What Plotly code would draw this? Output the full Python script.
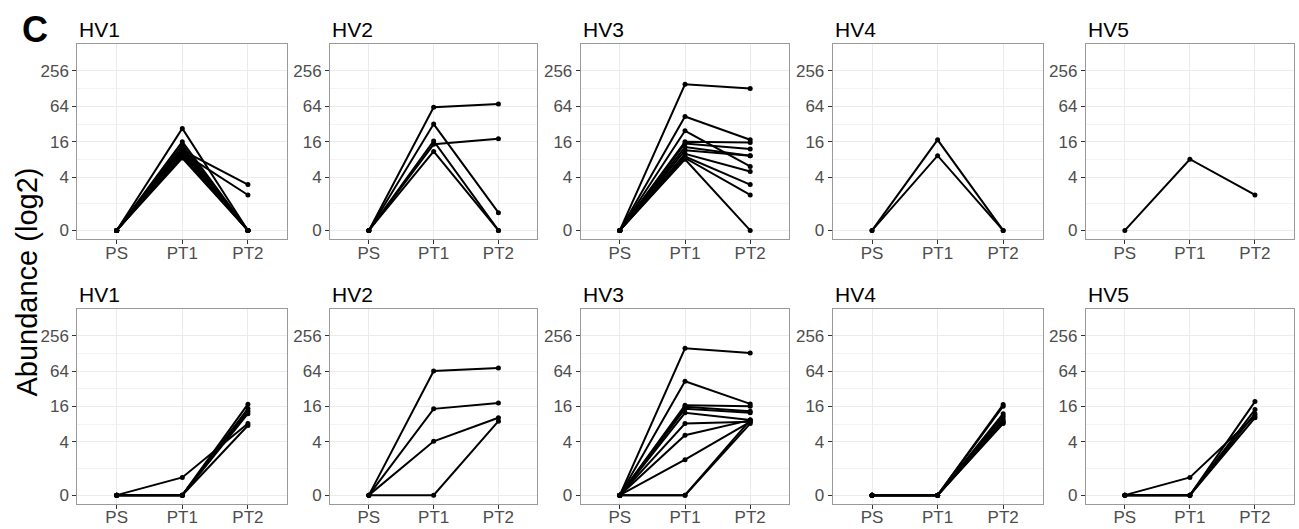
import math
import plotly.graph_objects as go

# ---------------- data ----------------
timepoints = ["PS", "PT1", "PT2"]
donors = ["HV1", "HV2", "HV3", "HV4", "HV5"]
tick_values = [0, 4, 16, 64, 256]
tick_labels = ["0", "4", "16", "64", "256"]

# Top row: clone abundances (PS, PT1, PT2) per donor
top_HV1 = [[0, 27, 0], [0, 16, 0], [0, 14, 0], [0, 12.5, 0], [0, 11.5, 3], [0, 11, 0],
           [0, 10.5, 2], [0, 10, 0], [0, 9.5, 0], [0, 9, 0], [0, 8.5, 0], [0, 12, 0]]
top_HV2 = [[0, 62, 70], [0, 32, 1], [0, 16.5, 0], [0, 14.5, 18], [0, 11, 0]]
top_HV3 = [[0, 152, 128], [0, 43, 17.3], [0, 24.6, 6.1], [0, 16, 15.5], [0, 15, 12.1],
           [0, 13, 9.3], [0, 11.5, 9.3], [0, 10, 5.0], [0, 9, 3.0], [0, 8.5, 2.0], [0, 8.1, 0]]
top_HV4 = [[0, 17.3, 0], [0, 9.3, 0]]
top_HV5 = [[0, 8.1, 2.0]]

# Bottom row
bot_HV1 = [[0, 1, 8.2], [0, 0, 17.5], [0, 0, 14.8], [0, 0, 13.3], [0, 0, 12.1], [0, 0, 7.6]]
bot_HV2 = [[0, 64, 72], [0, 14.6, 18.4], [0, 4.1, 10.3], [0, 0, 9.0]]
bot_HV3 = [[0, 156, 130], [0, 43, 17.7], [0, 16.8, 16.2], [0, 15.8, 13.3], [0, 14.6, 12.5],
           [0, 12.5, 9.4], [0, 8.2, 8.8], [0, 5.2, 9.4], [0, 2.0, 8.8], [0, 0, 8.2], [0, 0, 9.4]]
bot_HV4 = [[0, 0, 17.3], [0, 0, 16.2], [0, 0, 12.1], [0, 0, 10.9], [0, 0, 9.8], [0, 0, 9.0],
           [0, 0, 8.2], [0, 0, 8.6]]
bot_HV5 = [[0, 1, 11], [0, 0, 19.4], [0, 0, 14.2], [0, 0, 12.1], [0, 0, 10.3]]

rows = [[top_HV1, top_HV2, top_HV3, top_HV4, top_HV5],
        [bot_HV1, bot_HV2, bot_HV3, bot_HV4, bot_HV5]]


# ---------------- scale: log2, with 0 placed at log2(0.5) ----------------
def pos(v):
    return math.log2(v) if v > 0 else -1.0


tick_pos = [pos(v) for v in tick_values]
minor_pos = [(a + b) / 2 for a, b in zip(tick_pos[:-1], tick_pos[1:])]
yr = [-1.5, 9.5]

# ---------------- layout geometry (px) ----------------
W, H = 1299, 529
col_px = [(77.3, 287.3), (330.0, 537.3), (580.7, 789.3), (832.7, 1042.5), (1085.8, 1294.0)]
row_px = [(44.3, 239.3), (309.0, 504.0)]

FONT = "Arial, Liberation Sans, sans-serif"
fig = go.Figure()
layout = dict(width=W, height=H, margin=dict(l=0, r=0, t=0, b=0),
              paper_bgcolor="white", plot_bgcolor="white", showlegend=False,
              font=dict(family=FONT))
annotations = []

k = 0
for r, row in enumerate(rows):
    for c, clones in enumerate(row):
        k += 1
        xa = "x" if k == 1 else f"x{k}"
        ya = "y" if k == 1 else f"y{k}"
        for cl in clones:
            fig.add_trace(go.Scatter(
                x=timepoints, y=[pos(v) for v in cl], xaxis=xa, yaxis=ya,
                mode="lines+markers",
                line=dict(color="black", width=2),
                marker=dict(color="black", size=5),
                hoverinfo="skip"))
        x0, x1 = col_px[c]
        t0, t1 = row_px[r]
        xd = [x0 / W, x1 / W]
        yd = [1 - t1 / H, 1 - t0 / H]
        layout["xaxis" if k == 1 else f"xaxis{k}"] = dict(
            domain=xd, anchor=ya, type="category", categoryorder="array",
            categoryarray=timepoints, range=[-0.6, 2.6],
            showgrid=True, gridcolor="#ebebeb", gridwidth=1,
            showline=True, mirror=True, linecolor="#9a9a9a", linewidth=1,
            ticks="outside", ticklen=4, tickcolor="#333333", tickwidth=1,
            ticklabelstandoff=-6,
            tickfont=dict(size=17, color="#4d4d4d", family=FONT),
            zeroline=False, fixedrange=True)
        layout["yaxis" if k == 1 else f"yaxis{k}"] = dict(
            domain=yd, anchor=xa, range=yr,
            tickmode="array", tickvals=tick_pos, ticktext=tick_labels,
            showgrid=True, gridcolor="#ebebeb", gridwidth=1,
            minor=dict(tickmode="array", tickvals=minor_pos, showgrid=True,
                       gridcolor="#f3f3f3", gridwidth=1, ticks=""),
            showline=True, mirror=True, linecolor="#9a9a9a", linewidth=1,
            ticks="outside", ticklen=4, tickcolor="#333333", tickwidth=1,
            tickfont=dict(size=17, color="#4d4d4d", family=FONT),
            zeroline=False, fixedrange=True)
        annotations.append(dict(
            text=donors[c], xref="paper", yref="paper",
            x=x0 / W, y=1 - (t0 - 15.0) / H, xanchor="left", yanchor="middle",
            showarrow=False, font=dict(size=21, color="black", family=FONT)))

annotations.append(dict(
    text="<b>C</b>", xref="paper", yref="paper", x=35 / W, y=1 - 30 / H,
    xanchor="center", yanchor="middle", showarrow=False,
    font=dict(size=36, color="black", family=FONT)))
annotations.append(dict(
    text="Abundance (log2)", xref="paper", yref="paper", x=26 / W, y=1 - 282.5 / H,
    xanchor="center", yanchor="middle", textangle=-90, showarrow=False,
    font=dict(size=29, color="black", family=FONT)))

layout["annotations"] = annotations
fig.update_layout(**layout)
fig.write_html("out.html")
